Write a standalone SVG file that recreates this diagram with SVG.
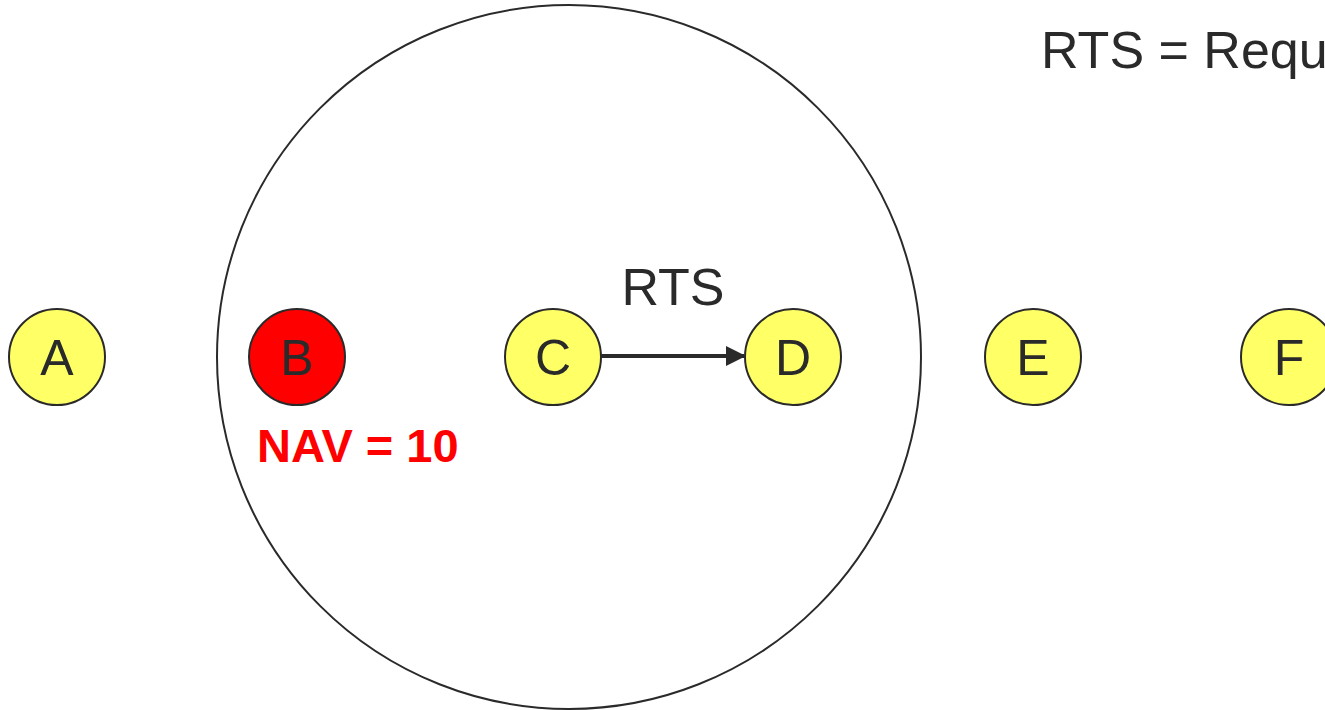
<svg xmlns="http://www.w3.org/2000/svg" width="1325" height="710" viewBox="0 0 1325 710">
<style>
.node{fill:#ffff66;stroke:#2a2a2a;stroke-width:2}
.red{fill:#ff0000}
.lbl{font-family:"Liberation Sans",Arial,sans-serif;font-size:50px;fill:#2a2a2a;text-anchor:middle}
.txt{font-family:"Liberation Sans",Arial,sans-serif;fill:#2a2a2a}
</style>
<defs>
<marker id="ah" markerWidth="5" markerHeight="5" refX="4.5" refY="2.5" orient="auto" markerUnits="strokeWidth">
<path d="M0,0 L5,2.5 L0,5 z" fill="#2a2a2a"/>
</marker>
</defs>
<rect width="1325" height="710" fill="#ffffff"/>
<circle id="range" cx="569" cy="357" r="352" fill="none" stroke="#2a2a2a" stroke-width="2"/>
<text class="txt" x="1041" y="68" font-size="52">RTS = Request To Send</text>
<g id="connectors">
<line x1="601" y1="356" x2="744" y2="356" stroke="#2a2a2a" stroke-width="4" marker-end="url(#ah)"/>
<text class="txt" x="673" y="305" font-size="52" text-anchor="middle">RTS</text>
</g>
<g id="A"><circle class="node" cx="57" cy="357" r="48"/><text class="lbl" x="57" y="375">A</text></g>
<g id="B"><circle class="node red" cx="297" cy="357" r="48"/><text class="lbl" x="297" y="375">B</text></g>
<g id="C"><circle class="node" cx="553" cy="357" r="48"/><text class="lbl" x="553" y="375">C</text></g>
<g id="D"><circle class="node" cx="793" cy="357" r="48"/><text class="lbl" x="793" y="375">D</text></g>
<g id="E"><circle class="node" cx="1033" cy="357" r="48"/><text class="lbl" x="1033" y="375">E</text></g>
<g id="F"><circle class="node" cx="1289" cy="357" r="48"/><text class="lbl" x="1289" y="375">F</text></g>
<text x="257" y="462" font-family="Liberation Sans,Arial,sans-serif" font-size="47" font-weight="bold" fill="#ff0000">NAV = 10</text>
</svg>
